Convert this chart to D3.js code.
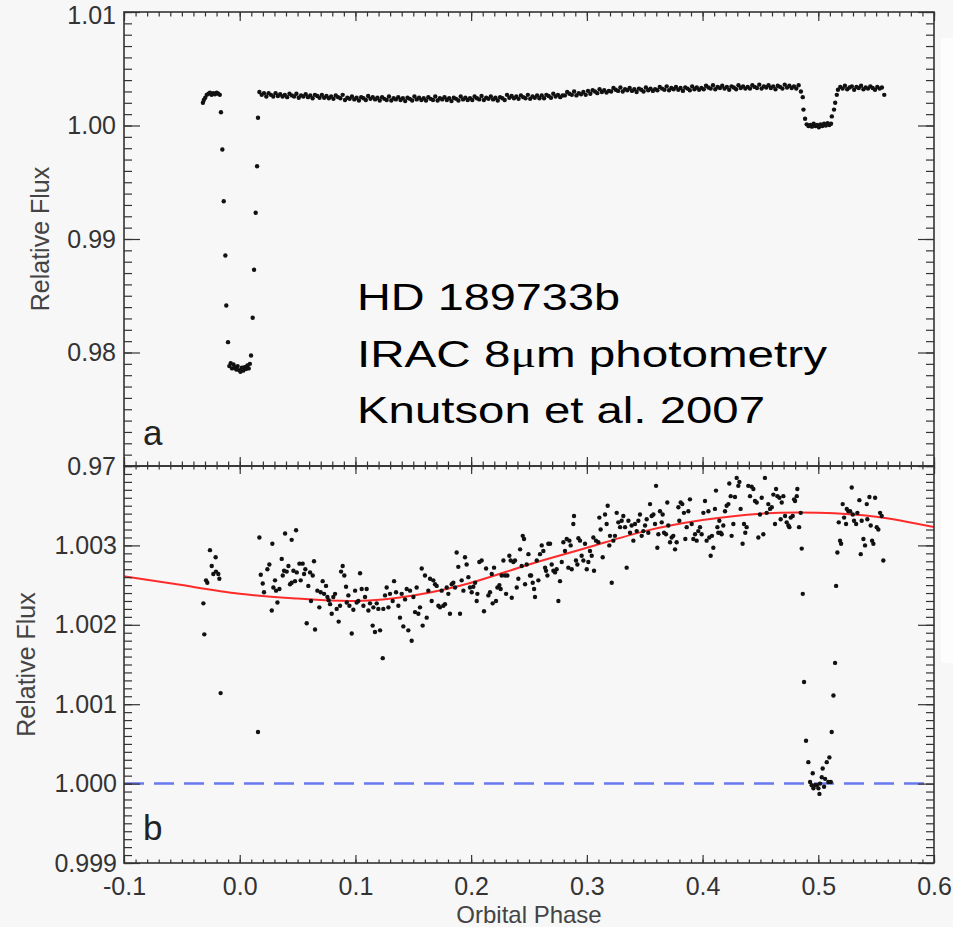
<!DOCTYPE html>
<html><head><meta charset="utf-8">
<script src="https://cdn.jsdelivr.net/npm/d3@7"></script>
<style>
html,body{margin:0;padding:0;background:#f7f7f7;}
svg{display:block;}
</style></head><body>
<svg id="chart" width="953" height="927"></svg>
<script>
// ---------- DATA ----------
const xTicks = [-0.1, 0.0, 0.1, 0.2, 0.3, 0.4, 0.5, 0.6];
const xTickLabels = ["-0.1", "0.0", "0.1", "0.2", "0.3", "0.4", "0.5", "0.6"];
const yATicks = [0.97, 0.98, 0.99, 1.00, 1.01];
const yATickLabels = ["0.97", "0.98", "0.99", "1.00", "1.01"];
const yBTicks = [0.999, 1.000, 1.001, 1.002, 1.003, 1.004];
const yBTickLabels = ["0.999", "1.000", "1.001", "1.002", "1.003", ""];
const annotationLines = ["HD 189733b", "IRAC 8", "m photometry", "Knutson et al. 2007"];

// model fit (red curve), panel b
const modelPhase = [-0.1, -0.05, 0.0, 0.05, 0.1, 0.15, 0.2, 0.25, 0.3, 0.35, 0.4, 0.45, 0.5, 0.55, 0.6];
const modelFlux = [1.00261, 1.00250, 1.00239, 1.00233, 1.00230, 1.00237, 1.00253, 1.00276, 1.00297, 1.00318, 1.00332, 1.00340, 1.00341, 1.00336, 1.00323];

// ---- panel a (binned) ----
const preTransitA = [[-0.0318,1.00200],[-0.0310,1.00225],[-0.0298,1.00245],[-0.0285,1.00270],[-0.0270,1.00280],[-0.0257,1.00290],[-0.0243,1.00270],[-0.0228,1.00285],[-0.0214,1.00275],[-0.0199,1.00290],[-0.0185,1.00280],[-0.0172,1.00270]];
const transitA = [[-0.0162,1.00117],[-0.0150,0.99789],[-0.0138,0.99333],[-0.0124,0.98855],[-0.0116,0.98414],[-0.0101,0.98091],
 [-0.0090,0.97880],[-0.0078,0.97905],[-0.0066,0.97860],[-0.0054,0.97895],[-0.0042,0.97870],[-0.0030,0.97850],[-0.0018,0.97880],[-0.0006,0.97845],
 [0.0006,0.97830],[0.0018,0.97865],[0.0030,0.97840],[0.0042,0.97870],[0.0054,0.97855],[0.0066,0.97885],[0.0078,0.97860],[0.0088,0.97900],
 [0.0098,0.97974],[0.0112,0.98306],[0.0124,0.98729],[0.0138,0.99231],[0.0150,0.99641],[0.0158,1.00068]];
const orbitA = [
 [0.017,1.00295],[0.019,1.00270],[0.021,1.00285],[0.023,1.00255],[0.025,1.00285],[0.027,1.00270],[0.029,1.00255],[0.031,1.00285],[0.033,1.00260],[0.035,1.00275],
 [0.037,1.00255],[0.039,1.00270],[0.041,1.00250],[0.043,1.00280],[0.045,1.00265],[0.047,1.00255],[0.049,1.00280],[0.051,1.00245],[0.053,1.00265],[0.055,1.00255],
 [0.057,1.00275],[0.059,1.00250],[0.061,1.00265],[0.063,1.00240],[0.065,1.00270],[0.067,1.00260],[0.069,1.00245],[0.071,1.00270],[0.073,1.00245],[0.075,1.00260],
 [0.077,1.00240],[0.079,1.00255],[0.081,1.00235],[0.083,1.00265],[0.085,1.00250],[0.087,1.00240],[0.089,1.00270],[0.091,1.00225],[0.093,1.00245],[0.095,1.00235],
 [0.097,1.00255],[0.099,1.00230],[0.101,1.00245],[0.103,1.00220],[0.105,1.00250],[0.107,1.00240],[0.109,1.00225],[0.111,1.00260],[0.113,1.00235],[0.115,1.00250],
 [0.117,1.00230],[0.119,1.00245],[0.121,1.00220],[0.123,1.00250],[0.125,1.00235],[0.127,1.00225],[0.129,1.00255],[0.131,1.00220],[0.133,1.00240],[0.135,1.00230],
 [0.137,1.00250],[0.139,1.00225],[0.141,1.00240],[0.143,1.00215],[0.145,1.00245],[0.147,1.00235],[0.149,1.00220],[0.151,1.00255],[0.153,1.00230],[0.155,1.00245],
 [0.157,1.00225],[0.159,1.00240],[0.161,1.00220],[0.163,1.00250],[0.165,1.00235],[0.167,1.00225],[0.169,1.00255],[0.171,1.00220],[0.173,1.00240],[0.175,1.00230],
 [0.177,1.00250],[0.179,1.00225],[0.181,1.00240],[0.183,1.00215],[0.185,1.00245],[0.187,1.00235],[0.189,1.00220],[0.191,1.00255],[0.193,1.00230],[0.195,1.00245],
 [0.197,1.00225],[0.199,1.00240],[0.201,1.00225],[0.203,1.00255],[0.205,1.00240],[0.207,1.00230],[0.209,1.00260],[0.211,1.00225],[0.213,1.00245],[0.215,1.00235],
 [0.217,1.00255],[0.219,1.00230],[0.221,1.00245],[0.223,1.00220],[0.225,1.00250],[0.227,1.00240],[0.229,1.00225],[0.231,1.00270],[0.233,1.00245],[0.235,1.00260],
 [0.237,1.00240],[0.239,1.00255],[0.241,1.00235],[0.243,1.00265],[0.245,1.00250],[0.247,1.00240],[0.249,1.00270],[0.251,1.00235],[0.253,1.00255],[0.255,1.00245],
 [0.257,1.00265],[0.259,1.00240],[0.261,1.00265],[0.263,1.00240],[0.265,1.00270],[0.267,1.00260],[0.269,1.00245],[0.271,1.00280],[0.273,1.00255],[0.275,1.00270],
 [0.277,1.00250],[0.279,1.00265],[0.281,1.00265],[0.283,1.00295],[0.285,1.00280],[0.287,1.00270],[0.289,1.00300],[0.291,1.00265],[0.293,1.00285],[0.295,1.00275],
 [0.297,1.00295],[0.299,1.00270],[0.301,1.00305],[0.303,1.00280],[0.305,1.00310],[0.307,1.00300],[0.309,1.00285],[0.311,1.00320],[0.313,1.00295],[0.315,1.00310],
 [0.317,1.00290],[0.319,1.00305],[0.321,1.00300],[0.323,1.00330],[0.325,1.00315],[0.327,1.00305],[0.329,1.00335],[0.331,1.00300],[0.333,1.00320],[0.335,1.00310],
 [0.337,1.00330],[0.339,1.00305],[0.341,1.00320],[0.343,1.00295],[0.345,1.00325],[0.347,1.00315],[0.349,1.00300],[0.351,1.00335],[0.353,1.00310],[0.355,1.00325],
 [0.357,1.00305],[0.359,1.00320],[0.361,1.00310],[0.363,1.00340],[0.365,1.00325],[0.367,1.00315],[0.369,1.00345],[0.371,1.00310],[0.373,1.00330],[0.375,1.00320],
 [0.377,1.00340],[0.379,1.00315],[0.381,1.00330],[0.383,1.00305],[0.385,1.00335],[0.387,1.00325],[0.389,1.00310],[0.391,1.00345],[0.393,1.00320],[0.395,1.00335],
 [0.397,1.00315],[0.399,1.00330],[0.401,1.00320],[0.403,1.00350],[0.405,1.00335],[0.407,1.00325],[0.409,1.00355],[0.411,1.00320],[0.413,1.00340],[0.415,1.00330],
 [0.417,1.00350],[0.419,1.00325],[0.421,1.00340],[0.423,1.00315],[0.425,1.00345],[0.427,1.00335],[0.429,1.00320],[0.431,1.00355],[0.433,1.00330],[0.435,1.00345],
 [0.437,1.00325],[0.439,1.00340],[0.441,1.00325],[0.443,1.00355],[0.445,1.00340],[0.447,1.00330],[0.449,1.00360],[0.451,1.00325],[0.453,1.00345],[0.455,1.00335],
 [0.457,1.00355],[0.459,1.00330],[0.461,1.00345],[0.463,1.00320],[0.465,1.00350],[0.467,1.00340],[0.469,1.00325],[0.471,1.00360],[0.473,1.00335],[0.475,1.00350],
 [0.477,1.00330],[0.479,1.00345],[0.481,1.00325],[0.483,1.00355]];
const eclipseA = [[0.4850,1.00300],[0.4866,1.00250],[0.4872,1.00140],[0.4886,1.00060],[0.4900,1.00010],[0.4915,0.99995],[0.4930,1.00005],[0.4945,0.99990],[0.4960,1.00015],[0.4975,0.99995],[0.4990,1.00005],[0.5005,0.99985],[0.5020,1.00010],[0.5035,0.99995],[0.5050,1.00015],[0.5065,1.00000],[0.5080,1.00020],[0.5095,1.00005],[0.5110,1.00015],[0.5117,1.00080],[0.5136,1.00140],[0.5146,1.00200],[0.5160,1.00270]];
const postEclipseA = [[0.517,1.00315],[0.519,1.00340],[0.521,1.00325],[0.523,1.00350],[0.525,1.00320],[0.527,1.00335],[0.529,1.00345],[0.531,1.00315],[0.533,1.00340],[0.535,1.00330],[0.537,1.00350],[0.539,1.00320],[0.541,1.00335],[0.543,1.00325],[0.545,1.00345],[0.547,1.00330],[0.549,1.00315],[0.551,1.00340],[0.553,1.00325],[0.555,1.00335],[0.557,1.00270]];

// ---- panel b ----
const preTransitB = [[-0.0314,1.00227],[-0.0306,1.00188],[-0.0291,1.00256],[-0.0280,1.00253],[-0.0257,1.00294],[-0.0242,1.00274],[-0.0228,1.00264],[-0.0208,1.00285],[-0.0205,1.00267],[-0.0185,1.00264],[-0.0176,1.00258],[-0.0165,1.00114]];
const egressB = [[0.0158,1.00065]];
const orbitB = [
 [0.0170,1.00310],[0.0182,1.00263],[0.0199,1.00252],[0.0210,1.00241],[0.0239,1.00270],[0.0256,1.00276],[0.0277,1.00218],[0.0282,1.00302],[0.0291,1.00247],[0.0305,1.00256],
 [0.0314,1.00243],[0.0326,1.00228],[0.0343,1.00245],[0.0363,1.00283],[0.0372,1.00262],[0.0383,1.00268],[0.0392,1.00315],[0.0406,1.00267],[0.0421,1.00274],[0.0435,1.00251],
 [0.0449,1.00307],[0.0449,1.00253],[0.0464,1.00268],[0.0478,1.00255],[0.0487,1.00319],[0.0493,1.00266],[0.0516,1.00277],[0.0527,1.00256],[0.0544,1.00277],[0.0556,1.00264],
 [0.0567,1.00270],[0.0579,1.00202],[0.0593,1.00249],[0.0608,1.00266],[0.0616,1.00230],[0.0631,1.00262],[0.0642,1.00280],[0.0651,1.00194],[0.0671,1.00243],[0.0688,1.00222],
 [0.0700,1.00241],[0.0717,1.00255],[0.0729,1.00239],[0.0746,1.00249],[0.0758,1.00235],[0.0769,1.00231],[0.0781,1.00226],[0.0795,1.00214],[0.0809,1.00235],[0.0824,1.00239],
 [0.0838,1.00220],[0.0855,1.00204],[0.0867,1.00224],[0.0876,1.00267],[0.0890,1.00274],[0.0904,1.00262],[0.0919,1.00248],[0.0925,1.00228],[0.0939,1.00237],[0.0948,1.00224],
 [0.0968,1.00189],[0.0982,1.00219],[0.0997,1.00243],[0.1011,1.00228],[0.1025,1.00230],[0.1040,1.00265],[0.1054,1.00245],[0.1069,1.00224],[0.1083,1.00235],[0.1097,1.00245],
 [0.1112,1.00218],[0.1126,1.00227],[0.1149,1.00199],[0.1155,1.00222],[0.1169,1.00191],[0.1184,1.00227],[0.1198,1.00220],[0.1213,1.00193],[0.1236,1.00158],[0.1241,1.00220],
 [0.1256,1.00237],[0.1270,1.00247],[0.1285,1.00222],[0.1299,1.00239],[0.1322,1.00230],[0.1334,1.00255],[0.1351,1.00241],[0.1371,1.00224],[0.1385,1.00209],[0.1400,1.00239],
 [0.1414,1.00198],[0.1429,1.00232],[0.1443,1.00245],[0.1457,1.00193],[0.1472,1.00243],[0.1486,1.00180],[0.1501,1.00235],[0.1515,1.00216],[0.1529,1.00247],[0.1544,1.00214],
 [0.1558,1.00222],[0.1573,1.00271],[0.1581,1.00199],[0.1601,1.00262],[0.1616,1.00209],[0.1630,1.00243],[0.1645,1.00258],[0.1659,1.00230],[0.1673,1.00256],[0.1688,1.00251],
 [0.1702,1.00249],[0.1717,1.00224],[0.1731,1.00222],[0.1745,1.00243],[0.1760,1.00224],[0.1774,1.00226],[0.1789,1.00247],[0.1803,1.00239],[0.1817,1.00214],[0.1832,1.00251],
 [0.1846,1.00253],[0.1861,1.00247],[0.1875,1.00291],[0.1889,1.00273],[0.1904,1.00214],[0.1918,1.00256],[0.1933,1.00243],[0.1947,1.00285],[0.1961,1.00276],[0.1976,1.00260],
 [0.1990,1.00247],[0.2005,1.00241],[0.2019,1.00248],[0.2034,1.00253],[0.2048,1.00230],[0.2054,1.00239],[0.2071,1.00279],[0.2091,1.00281],[0.2111,1.00217],[0.2129,1.00271],
 [0.2149,1.00237],[0.2163,1.00241],[0.2178,1.00264],[0.2186,1.00227],[0.2198,1.00272],[0.2215,1.00230],[0.2227,1.00247],[0.2244,1.00250],[0.2255,1.00245],[0.2264,1.00262],
 [0.2279,1.00281],[0.2293,1.00262],[0.2302,1.00239],[0.2313,1.00262],[0.2330,1.00287],[0.2342,1.00281],[0.2351,1.00234],[0.2365,1.00279],[0.2379,1.00281],[0.2394,1.00247],
 [0.2408,1.00258],[0.2423,1.00295],[0.2437,1.00274],[0.2446,1.00312],[0.2457,1.00308],[0.2466,1.00251],[0.2480,1.00276],[0.2495,1.00289],[0.2509,1.00262],[0.2518,1.00262],
 [0.2532,1.00253],[0.2544,1.00245],[0.2552,1.00235],[0.2567,1.00281],[0.2581,1.00256],[0.2595,1.00289],[0.2610,1.00300],[0.2624,1.00293],[0.2639,1.00272],[0.2647,1.00268],
 [0.2659,1.00262],[0.2667,1.00302],[0.2682,1.00302],[0.2696,1.00276],[0.2711,1.00268],[0.2725,1.00266],[0.2739,1.00270],[0.2754,1.00230],[0.2768,1.00255],[0.2783,1.00279],
 [0.2797,1.00304],[0.2811,1.00293],[0.2826,1.00308],[0.2840,1.00272],[0.2849,1.00306],[0.2860,1.00300],[0.2869,1.00270],[0.2883,1.00327],[0.2889,1.00337],[0.2906,1.00281],
 [0.2918,1.00276],[0.2927,1.00309],[0.2941,1.00306],[0.2955,1.00287],[0.2970,1.00281],[0.2984,1.00302],[0.2999,1.00270],[0.3013,1.00279],[0.3027,1.00293],[0.3042,1.00287],
 [0.3056,1.00310],[0.3062,1.00268],[0.3079,1.00306],[0.3099,1.00304],[0.3108,1.00335],[0.3119,1.00320],[0.3137,1.00285],[0.3157,1.00339],[0.3171,1.00327],[0.3180,1.00350],
 [0.3194,1.00300],[0.3200,1.00312],[0.3215,1.00253],[0.3229,1.00306],[0.3243,1.00312],[0.3258,1.00341],[0.3272,1.00329],[0.3287,1.00323],[0.3301,1.00331],[0.3315,1.00337],
 [0.3330,1.00323],[0.3344,1.00272],[0.3359,1.00331],[0.3373,1.00316],[0.3387,1.00325],[0.3402,1.00306],[0.3416,1.00327],[0.3431,1.00318],[0.3445,1.00331],[0.3459,1.00339],
 [0.3474,1.00312],[0.3488,1.00318],[0.3503,1.00325],[0.3517,1.00333],[0.3531,1.00316],[0.3546,1.00352],[0.3560,1.00337],[0.3575,1.00339],[0.3589,1.00327],[0.3598,1.00375],
 [0.3609,1.00297],[0.3618,1.00314],[0.3632,1.00343],[0.3647,1.00329],[0.3655,1.00339],[0.3667,1.00316],[0.3684,1.00314],[0.3695,1.00354],[0.3704,1.00325],[0.3719,1.00304],
 [0.3733,1.00310],[0.3747,1.00312],[0.3762,1.00295],[0.3776,1.00304],[0.3791,1.00348],[0.3799,1.00331],[0.3811,1.00354],[0.3825,1.00352],[0.3839,1.00341],[0.3851,1.00308],
 [0.3863,1.00323],[0.3877,1.00343],[0.3891,1.00358],[0.3906,1.00327],[0.3920,1.00308],[0.3935,1.00314],[0.3949,1.00306],[0.3963,1.00318],[0.3978,1.00323],[0.3992,1.00314],
 [0.4007,1.00341],[0.4021,1.00356],[0.4035,1.00306],[0.4050,1.00343],[0.4058,1.00310],[0.4070,1.00287],[0.4081,1.00312],[0.4093,1.00297],[0.4107,1.00346],[0.4116,1.00369],
 [0.4128,1.00323],[0.4136,1.00316],[0.4145,1.00331],[0.4156,1.00316],[0.4165,1.00314],[0.4179,1.00325],[0.4194,1.00343],[0.4208,1.00350],[0.4223,1.00352],[0.4231,1.00378],
 [0.4243,1.00362],[0.4251,1.00312],[0.4266,1.00327],[0.4280,1.00361],[0.4295,1.00385],[0.4309,1.00375],[0.4318,1.00380],[0.4329,1.00346],[0.4346,1.00302],[0.4358,1.00327],
 [0.4369,1.00316],[0.4381,1.00323],[0.4395,1.00375],[0.4410,1.00362],[0.4424,1.00374],[0.4439,1.00371],[0.4453,1.00356],[0.4468,1.00354],[0.4482,1.00310],[0.4496,1.00339],
 [0.4511,1.00360],[0.4525,1.00314],[0.4539,1.00385],[0.4554,1.00341],[0.4568,1.00352],[0.4583,1.00346],[0.4598,1.00348],[0.4612,1.00364],[0.4626,1.00327],[0.4635,1.00371],
 [0.4647,1.00362],[0.4664,1.00360],[0.4675,1.00333],[0.4684,1.00354],[0.4698,1.00362],[0.4713,1.00337],[0.4727,1.00329],[0.4742,1.00325],[0.4750,1.00323],[0.4762,1.00335],
 [0.4779,1.00337],[0.4791,1.00358],[0.4799,1.00356],[0.4814,1.00362],[0.4819,1.00371],[0.4834,1.00323],[0.4848,1.00341]];
const eclipseB = [[0.4857,1.00296],[0.4866,1.00239],[0.4877,1.00128],[0.4894,1.00054],[0.4914,1.00027],[0.4929,1.00002],[0.4943,0.99998],[0.4952,1.00013],[0.4958,0.99994],[0.4972,0.99998],[0.4987,0.99998],[0.5001,0.99994],[0.5010,0.99987],[0.5015,1.00000],[0.5030,1.00008],[0.5038,1.00019],[0.5050,0.99996],[0.5059,1.00006],[0.5073,1.00027],[0.5087,1.00002],[0.5096,1.00033],[0.5108,1.00002],[0.5116,1.00065],[0.5131,1.00111],[0.5145,1.00152],[0.5154,1.00249],[0.5165,1.00291]];
const postEclipseB = [[0.5177,1.00329],[0.5188,1.00306],[0.5197,1.00302],[0.5211,1.00352],[0.5223,1.00335],[0.5240,1.00327],[0.5246,1.00346],[0.5260,1.00343],[0.5275,1.00343],[0.5289,1.00373],[0.5298,1.00339],[0.5309,1.00331],[0.5327,1.00327],[0.5338,1.00341],[0.5355,1.00357],[0.5367,1.00289],[0.5375,1.00331],[0.5390,1.00308],[0.5404,1.00300],[0.5419,1.00352],[0.5424,1.00333],[0.5442,1.00361],[0.5453,1.00325],[0.5465,1.00306],[0.5476,1.00302],[0.5491,1.00360],[0.5505,1.00323],[0.5519,1.00320],[0.5534,1.00341],[0.5548,1.00337],[0.5562,1.00281]];

// ---------- DRAWING ----------
const FONT = '"Liberation Sans", Arial, Helvetica, sans-serif';
const AX = "#333";
const svg = d3.select("#chart");
svg.append("rect").attr("width", 953).attr("height", 927).attr("fill", "#f7f7f7");
svg.append("rect").attr("x", 941).attr("y", 38).attr("width", 12).attr("height", 625).attr("fill", "#fdfdfd");

const L = 124, R = 934, TA = 12, MID = 466, BB = 863;
const x = d3.scaleLinear().domain([-0.1, 0.6]).range([L, R]);
const yA = d3.scaleLinear().domain([0.97, 1.01]).range([MID, TA]);
const yB = d3.scaleLinear().domain([0.999, 1.004]).range([BB, MID]);

const xMinor = d3.range(0, 71).map(i => -0.1 + i * 0.01);
const yAMinor = d3.range(0, 41).map(i => 0.97 + i * 0.001);
const yBMinor = d3.range(0, 51).map(i => 0.999 + i * 0.0001);

const defs = svg.append("defs");
defs.append("clipPath").attr("id", "clipB").append("rect")
  .attr("x", L).attr("y", MID).attr("width", R - L).attr("height", BB - MID);
defs.append("clipPath").attr("id", "clipA").append("rect")
  .attr("x", L).attr("y", TA).attr("width", R - L).attr("height", MID - TA);

// panel b reference line & model
const gB = svg.append("g").attr("clip-path", "url(#clipB)");
gB.append("line")
  .attr("x1", x(-0.1)).attr("x2", x(0.6)).attr("y1", yB(1.0)).attr("y2", yB(1.0))
  .attr("stroke", "#6878f0").attr("stroke-width", 2.5).attr("stroke-dasharray", "20,10");
const model = modelPhase.map((p, i) => [p, modelFlux[i]]);
gB.append("path").datum(model)
  .attr("d", d3.line().x(d => x(d[0])).y(d => yB(d[1])).curve(d3.curveNatural))
  .attr("fill", "none").attr("stroke", "#ff2a2a").attr("stroke-width", 2);
const dataB = [].concat(preTransitB, egressB, orbitB, eclipseB, postEclipseB);
gB.selectAll("circle").data(dataB).enter().append("circle")
  .attr("cx", d => x(d[0])).attr("cy", d => yB(d[1])).attr("r", 2.2).attr("fill", "#111");

// panel a points
const gA = svg.append("g").attr("clip-path", "url(#clipA)");
const dataA = [].concat(preTransitA, transitA, orbitA, eclipseA, postEclipseA);
gA.selectAll("circle").data(dataA).enter().append("circle")
  .attr("cx", d => x(d[0])).attr("cy", d => yA(d[1])).attr("r", 2.2).attr("fill", "#111");

// axes helper
function addAxis(gen, tx, ty) {
  const g = svg.append("g").attr("transform", `translate(${tx},${ty})`).call(gen);
  g.attr("font-family", FONT).attr("font-size", 25);
  g.select(".domain").remove();
  g.selectAll("line").attr("stroke", AX).attr("stroke-width", 1.2);
  g.selectAll("text").attr("fill", "#333");
  return g;
}
const none = () => "";
// x axes (top panel: top & bottom edges; bottom panel: top & bottom edges)
addAxis(d3.axisTop(x).tickValues(xMinor).tickSize(-4.5).tickFormat(none), 0, TA);
addAxis(d3.axisTop(x).tickValues(xTicks).tickSize(-9).tickFormat(none), 0, TA);
addAxis(d3.axisBottom(x).tickValues(xMinor).tickSize(-4.5).tickFormat(none), 0, MID);
addAxis(d3.axisBottom(x).tickValues(xTicks).tickSize(-9).tickFormat(none), 0, MID);
addAxis(d3.axisTop(x).tickValues(xMinor).tickSize(-3.5).tickFormat(none), 0, MID);
addAxis(d3.axisTop(x).tickValues(xTicks).tickSize(-8).tickFormat(none), 0, MID);
addAxis(d3.axisBottom(x).tickValues(xMinor).tickSize(-3.5).tickFormat(none), 0, BB);
addAxis(d3.axisBottom(x).tickValues(xTicks).tickSize(-8).tickPadding(14)
  .tickFormat((d, i) => xTickLabels[i]), 0, BB);

// y axes
addAxis(d3.axisLeft(yA).tickValues(yAMinor).tickSize(-8).tickFormat(none), L, 0);
const yAxisA = addAxis(d3.axisLeft(yA).tickValues(yATicks).tickSize(-16).tickPadding(8)
  .tickFormat((d, i) => yATickLabels[i]), L, 0);
yAxisA.selectAll("text").filter(d => d === 1.01).attr("dy", "0.45em");
addAxis(d3.axisRight(yA).tickValues(yAMinor).tickSize(-8).tickFormat(none), R, 0);
addAxis(d3.axisRight(yA).tickValues(yATicks).tickSize(-16).tickFormat(none), R, 0);
addAxis(d3.axisLeft(yB).tickValues(yBMinor).tickSize(-8).tickFormat(none), L, 0);
addAxis(d3.axisLeft(yB).tickValues(yBTicks).tickSize(-16).tickPadding(7)
  .tickFormat((d, i) => yBTickLabels[i]), L, 0);
addAxis(d3.axisRight(yB).tickValues(yBMinor).tickSize(-8).tickFormat(none), R, 0);
addAxis(d3.axisRight(yB).tickValues(yBTicks).tickSize(-16).tickFormat(none), R, 0);

// frames
svg.append("rect").attr("x", L).attr("y", TA).attr("width", R - L).attr("height", MID - TA)
  .attr("fill", "none").attr("stroke", AX).attr("stroke-width", 1.6);
svg.append("rect").attr("x", L).attr("y", MID).attr("width", R - L).attr("height", BB - MID)
  .attr("fill", "none").attr("stroke", AX).attr("stroke-width", 1.6);

// axis titles
svg.append("text").attr("transform", `translate(49,${(TA + MID) / 2}) rotate(-90)`)
  .attr("text-anchor", "middle").attr("font-family", FONT).attr("font-size", 25).attr("fill", "#444")
  .text("Relative Flux");
svg.append("text").attr("transform", `translate(35,${(MID + BB) / 2}) rotate(-90)`)
  .attr("text-anchor", "middle").attr("font-family", FONT).attr("font-size", 25).attr("fill", "#444")
  .text("Relative Flux");
svg.append("text").attr("x", (L + R) / 2).attr("y", 923)
  .attr("text-anchor", "middle").attr("font-family", FONT).attr("font-size", 24).attr("fill", "#444")
  .text("Orbital Phase");

// panel letters
svg.append("text").attr("x", 143).attr("y", 445).attr("font-family", FONT).attr("font-size", 35).attr("fill", "#222").text("a");
svg.append("text").attr("x", 143).attr("y", 840).attr("font-family", FONT).attr("font-size", 35).attr("fill", "#222").text("b");

// annotation
const ann = svg.append("g").attr("font-family", FONT).attr("font-size", 37).attr("fill", "#000");
ann.append("text").attr("x", 357).attr("y", 310)
  .attr("textLength", 263).attr("lengthAdjust", "spacingAndGlyphs").text(annotationLines[0]);
const t2 = ann.append("text").attr("x", 357).attr("y", 367)
  .attr("textLength", 470).attr("lengthAdjust", "spacingAndGlyphs");
t2.append("tspan").text(annotationLines[1]);
t2.append("tspan").attr("font-family", '"Liberation Serif", "DejaVu Serif", serif').text("\u03bc");
t2.append("tspan").text(annotationLines[2]);
ann.append("text").attr("x", 357).attr("y", 423)
  .attr("textLength", 408).attr("lengthAdjust", "spacingAndGlyphs").text(annotationLines[3]);
</script></body></html>
